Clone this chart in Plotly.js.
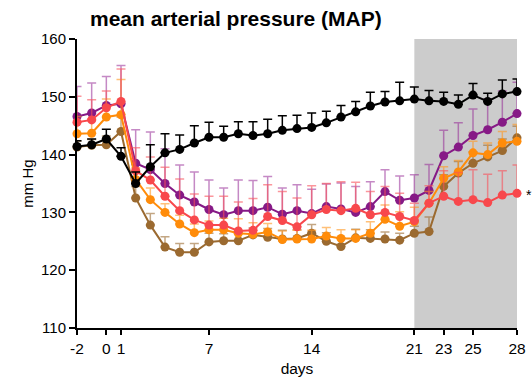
<!DOCTYPE html>
<html>
<head>
<meta charset="utf-8">
<script src="https://cdn.plot.ly/plotly-3.0.1.min.js"></script>
<style>html,body{margin:0;padding:0;background:#fff;}#chart{width:532px;height:383px;}</style>
</head>
<body>
<div id="chart"></div>
<script>
const days = [-2,-1,0,1,2,3,4,5,6,7,8,9,10,11,12,13,14,15,16,17,18,19,20,21,22,23,24,25,26,27,28];
const xTicks = [-2,0,1,7,14,21,23,25,28];
const yTicks = [110,120,130,140,150,160];

const blackMean = [141.4,141.7,142.7,139.7,135.0,137.9,140.3,140.9,142.0,143.0,143.0,143.6,143.3,143.6,144.2,144.5,144.7,145.5,146.5,147.4,148.4,149.1,149.3,149.6,149.3,149.2,148.7,150.3,149.2,150.5,150.9];
const blackErr  = [1.0,1.0,1.7,1.5,2.0,3.8,3.3,2.5,3.0,2.6,1.9,2.1,2.4,2.5,2.5,2.3,2.5,2.0,2.0,1.8,2.4,1.8,3.2,2.1,1.8,1.6,1.6,2.0,1.4,2.4,2.2];

const purpleMean = [146.6,147.2,148.5,148.8,138.5,137.4,135.0,133.0,131.8,130.5,129.6,130.3,130.3,130.9,129.7,130.3,129.8,131.0,130.6,130.0,131.0,133.6,132.1,132.5,133.8,139.8,141.3,143.3,144.3,145.6,147.1];
const purpleErr  = [5.2,5.2,5.0,6.6,5.8,6.5,6.0,5.2,5.2,5.1,4.6,5.3,5.2,5.3,4.5,4.5,4.2,3.9,4.5,4.5,4.3,3.8,4.2,4.0,4.5,4.4,4.2,4.6,5.3,5.4,5.4];

const redMean = [145.6,146.0,148.1,149.2,137.2,135.6,132.8,130.3,128.7,127.8,127.8,126.8,126.9,129.3,128.6,127.5,129.6,130.5,130.3,130.7,129.6,130.0,129.3,128.6,131.6,132.8,131.9,132.2,131.7,133.0,133.3];
const redErr  = [4.5,3.5,2.9,5.6,4.0,4.0,5.0,5.5,4.5,5.0,5.0,5.0,5.5,5.5,5.0,5.0,5.0,4.5,5.0,4.5,4.0,4.5,4.0,3.0,3.0,4.4,5.0,5.2,4.9,4.2,4.9];

const orangeMean = [143.6,143.7,146.5,146.9,135.7,132.2,130.0,128.0,126.5,127.0,127.0,126.4,126.2,126.6,125.3,125.4,125.4,125.9,125.5,125.5,126.4,128.8,127.6,128.4,131.6,135.9,137.0,140.3,140.0,142.0,142.3];
const orangeErr  = [3.0,2.5,3.1,6.1,2.0,2.0,1.5,1.5,1.5,1.5,2.0,2.5,2.0,1.5,1.5,1.5,1.5,1.5,1.5,1.5,2.0,2.5,2.5,2.5,2.0,2.0,2.0,2.0,2.0,2.0,2.9];

const brownMean = [141.3,141.6,141.7,144.0,132.5,127.8,124.0,123.1,123.1,124.9,125.1,125.1,126.1,125.7,125.4,125.5,126.4,125.0,124.1,125.6,125.5,125.4,125.2,126.4,126.7,134.5,136.8,138.5,139.6,140.7,142.9];
const brownErr  = [1.0,1.0,1.5,2.5,2.0,2.0,1.8,1.5,1.5,1.5,1.2,1.2,1.2,1.5,1.5,1.5,1.5,1.5,1.5,1.5,1.5,1.2,1.2,1.2,2.5,2.0,2.0,2.0,2.0,2.0,2.0];

const zeros = days.map(() => 0);

function series(y, err, color, errColor) {
  return {
    x: days, y: y, type: 'scatter', mode: 'lines+markers',
    line: {color: color, width: 2},
    marker: {color: color, size: 9},
    error_y: {type: 'data', symmetric: false, array: err, arrayminus: zeros,
              color: errColor, thickness: 1.5, width: 4.5},
    cliponaxis: false, showlegend: false, hoverinfo: 'skip'
  };
}

const data = [
  series(brownMean, brownErr, '#9b6a30', 'rgba(155,106,48,0.6)'),
  series(purpleMean, purpleErr, '#861a86', 'rgba(150,40,150,0.55)'),
  series(orangeMean, orangeErr, '#ff8c0a', 'rgba(255,150,30,0.6)'),
  series(redMean, redErr, '#f8484c', 'rgba(248,80,90,0.6)'),
  series(blackMean, blackErr, '#000000', '#000000')
];

const layout = {
  width: 532, height: 383,
  margin: {l: 77, r: 15, t: 39, b: 55},
  paper_bgcolor: '#ffffff', plot_bgcolor: '#ffffff',
  font: {family: 'Liberation Sans, Arial, sans-serif', color: '#000', size: 14},
  title: {text: '<b>mean arterial pressure (MAP)</b>', x: 90/532, xanchor: 'left',
          xref: 'container', yref: 'container', y: 1 - 19/383, yanchor: 'middle',
          font: {family: 'Liberation Sans, Arial, sans-serif', size: 21, color: '#000'}},
  xaxis: {range: [-2, 28], tickvals: xTicks, ticktext: xTicks.map(String),
          showline: true, linewidth: 2, linecolor: '#000', ticks: 'outside',
          ticklen: 5, tickwidth: 2, tickcolor: '#000', showgrid: false, zeroline: false,
          tickfont: {size: 15.5}, title: {text: 'days', font: {size: 15.5}, standoff: 8}},
  yaxis: {range: [110, 160], tickvals: yTicks, showline: true, linewidth: 2, linecolor: '#000',
          ticks: 'outside', ticklen: 6, tickwidth: 2, tickcolor: '#000', showgrid: false,
          zeroline: false, tickfont: {size: 15}, title: {text: 'mm Hg', font: {size: 15}, standoff: 4}},
  shapes: [{type: 'rect', xref: 'x', yref: 'y', x0: 21, x1: 28, y0: 110, y1: 160,
            fillcolor: '#cccccc', line: {width: 0}, layer: 'below'}],
  annotations: [{x: 28, y: redMean[redMean.length - 1], xref: 'x', yref: 'y', text: '*',
                 showarrow: false, xshift: 12, yshift: -2, font: {size: 14, color: '#000'}}]
};

Plotly.newPlot('chart', data, layout, {displayModeBar: false, staticPlot: true});
</script>
</body>
</html>
